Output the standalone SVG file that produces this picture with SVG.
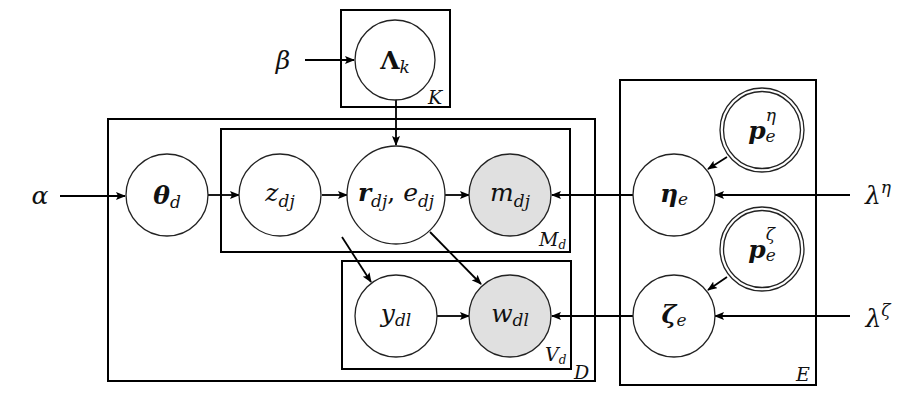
<svg xmlns="http://www.w3.org/2000/svg" width="924" height="406" viewBox="0 0 924 406">
<defs>
<marker id="ah" markerWidth="10" markerHeight="8" refX="9" refY="4" orient="auto" markerUnits="userSpaceOnUse">
<path d="M0,0 L10,4 L0,8 L2,4 Z" fill="#000"/>
</marker>
<style>
.plate{fill:none;stroke:#000;stroke-width:2}
.node{fill:#fff;stroke:#222;stroke-width:1.3}
.obs{fill:#e0e0e0;stroke:#222;stroke-width:1.3}
.edge{fill:none;stroke:#000;stroke-width:1.8}
text{font-family:"DejaVu Serif","Liberation Serif",serif;font-style:italic;fill:#111;font-size:25px;text-anchor:middle}
.b{font-weight:bold}
.sub{font-size:17px}
.pl{font-size:19px;text-anchor:start}
</style>
</defs>
<rect width="924" height="406" fill="#fff"/>
<g id="plates">
<rect class="plate" x="341" y="10" width="109" height="97"/>
<rect class="plate" x="108" y="119" width="487" height="262"/>
<rect class="plate" x="221" y="129" width="349" height="123"/>
<rect class="plate" x="342" y="261" width="229" height="108"/>
<rect class="plate" x="620" y="80" width="196" height="305"/>
<text class="pl" x="428" y="104">K</text>
<text class="pl" x="539" y="246">M<tspan font-size="12" dy="3">d</tspan></text>
<text class="pl" x="545" y="361">V<tspan font-size="12" dy="3">d</tspan></text>
<text class="pl" x="574" y="379">D</text>
<text class="pl" x="796" y="381">E</text>
</g>
<g id="connectors">
<line class="edge" x1="60" y1="196" x2="125" y2="196" marker-end="url(#ah)"/>
<line class="edge" x1="305" y1="60" x2="354" y2="60" marker-end="url(#ah)"/>
<line class="edge" x1="396" y1="99" x2="396" y2="145" marker-end="url(#ah)"/>
<line class="edge" x1="208" y1="195" x2="239" y2="195" marker-end="url(#ah)"/>
<line class="edge" x1="322" y1="195" x2="347" y2="195" marker-end="url(#ah)"/>
<line class="edge" x1="445" y1="195" x2="469" y2="195" marker-end="url(#ah)"/>
<line class="edge" x1="633" y1="195" x2="552" y2="195" marker-end="url(#ah)"/>
<line class="edge" x1="850" y1="195" x2="715" y2="195" marker-end="url(#ah)"/>
<line class="edge" x1="727" y1="157" x2="708" y2="169" marker-end="url(#ah)"/>
<line class="edge" x1="727" y1="277" x2="708" y2="290" marker-end="url(#ah)"/>
<line class="edge" x1="633" y1="316" x2="552" y2="316" marker-end="url(#ah)"/>
<line class="edge" x1="850" y1="316" x2="715" y2="316" marker-end="url(#ah)"/>
<line class="edge" x1="437" y1="316" x2="469" y2="316" marker-end="url(#ah)"/>
<line class="edge" x1="430" y1="232" x2="481" y2="284" marker-end="url(#ah)"/>
<line class="edge" x1="342" y1="237" x2="371" y2="282" marker-end="url(#ah)"/>
</g>
<g id="alpha"><text x="40" y="204">α</text></g>
<g id="beta"><text x="283" y="69">β</text></g>
<g id="lambda_eta"><text x="878" y="204">λ<tspan class="sub" dy="-11">η</tspan></text></g>
<g id="lambda_zeta"><text x="878" y="327">λ<tspan class="sub" dy="-11">ζ</tspan></text></g>
<g id="Lambda_k"><circle class="node" cx="395" cy="60" r="40"/><text x="395" y="69"><tspan class="b" font-style="normal">Λ</tspan><tspan class="sub" dy="4">k</tspan></text></g>
<g id="theta_d"><circle class="node" cx="167" cy="195" r="41"/><text x="167" y="204"><tspan class="b">θ</tspan><tspan class="sub" dy="4">d</tspan></text></g>
<g id="z_dj"><circle class="node" cx="280" cy="195" r="41"/><text x="280" y="201">z<tspan class="sub" dy="6">dj</tspan></text></g>
<g id="r_dj"><circle class="node" cx="396" cy="195" r="49"/><text x="396" y="201" font-size="23"><tspan class="b">r</tspan><tspan class="sub" dy="6">dj</tspan><tspan dy="-6" font-style="normal">, </tspan>e<tspan class="sub" dy="6">dj</tspan></text></g>
<g id="m_dj"><circle class="obs" cx="510" cy="195" r="41"/><text x="510" y="201">m<tspan class="sub" dy="6">dj</tspan></text></g>
<g id="y_dl"><circle class="node" cx="396" cy="316" r="41"/><text x="396" y="322">y<tspan class="sub" dy="4">dl</tspan></text></g>
<g id="w_dl"><circle class="obs" cx="510" cy="316" r="41"/><text x="510" y="322">w<tspan class="sub" dy="4">dl</tspan></text></g>
<g id="eta_e"><circle class="node" cx="674" cy="195" r="41"/><text x="674" y="202"><tspan class="b">η</tspan><tspan class="sub" dy="3">e</tspan></text></g>
<g id="zeta_e"><circle class="node" cx="674" cy="316" r="41"/><text x="674" y="323"><tspan class="b">ζ</tspan><tspan class="sub" dy="3">e</tspan></text></g>
<g id="p_eta"><circle class="node" cx="762" cy="130" r="42"/><circle class="node" cx="762" cy="130" r="38.5"/><text x="762" y="139"><tspan class="b">p</tspan><tspan class="sub" dy="3">e</tspan><tspan class="sub" dx="-10" dy="-21">η</tspan></text></g>
<g id="p_zeta"><circle class="node" cx="762" cy="249" r="42"/><circle class="node" cx="762" cy="249" r="38.5"/><text x="762" y="258"><tspan class="b">p</tspan><tspan class="sub" dy="3">e</tspan><tspan class="sub" dx="-10" dy="-21">ζ</tspan></text></g>
</svg>
